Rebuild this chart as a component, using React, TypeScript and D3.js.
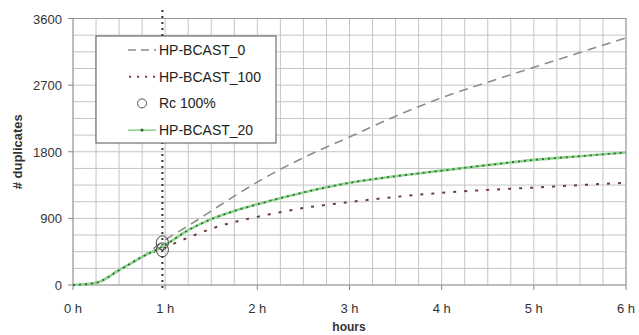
import React from "react";
import * as d3 from "d3";

// hours sampled at quarter-hour steps
const hours = [0, 0.25, 0.5, 0.75, 1, 1.25, 1.5, 1.75, 2, 2.5, 3, 3.5, 4, 4.5, 5, 5.5, 6];
const bcast0 = [0, 30, 200, 380, 610, 800, 1000, 1200, 1390, 1720, 2000, 2280, 2530, 2740, 2940, 3140, 3340];
const bcast100 = [0, 30, 200, 380, 510, 640, 760, 850, 920, 1040, 1120, 1190, 1245, 1285, 1315, 1350, 1380];
const bcast20 = [0, 30, 200, 380, 540, 740, 890, 1000, 1090, 1250, 1380, 1470, 1545, 1620, 1690, 1740, 1790];
const rcPoints = [{ h: 0.97, v: 570 }, { h: 0.97, v: 475 }];
const rcLine = 0.97;

const xTicks = [0, 1, 2, 3, 4, 5, 6];
const yTicks = [0, 900, 1800, 2700, 3600];
const legendLabels = ["HP-BCAST_0", "HP-BCAST_100", "Rc 100%", "HP-BCAST_20"];

const W = 639;
const H = 335;
const m = { left: 73, right: 626, top: 18.5, bottom: 285 };

export default function App() {
  const x = d3.scaleLinear().domain([0, 6]).range([m.left, m.right]);
  const y = d3.scaleLinear().domain([0, 3600]).range([m.bottom, m.top]);
  const line = (vals: number[]) =>
    d3
      .line<number>()
      .x((d, i) => x(hours[i]))
      .y((d) => y(d))
      .curve(d3.curveMonotoneX)(vals) || "";

  const xMinor = d3.range(0, 6.001, 0.25);
  const yMinor = d3.range(0, 3601, 225);
  const font = "Arial, 'Liberation Sans', sans-serif";

  return (
    <svg width={W} height={H} style={{ position: "absolute", left: 0, top: 0 }} fontFamily={font}>
      <rect width={W} height={H} fill="#fff" />
      {xMinor.map((t) => (
        <line key={"gx" + t} x1={x(t)} x2={x(t)} y1={m.top} y2={m.bottom} stroke="#c4c4c4" strokeWidth={1} />
      ))}
      {yMinor.map((t) => (
        <line key={"gy" + t} x1={m.left} x2={m.right} y1={y(t)} y2={y(t)} stroke="#c4c4c4" strokeWidth={1} />
      ))}
      <rect x={m.left} y={m.top} width={m.right - m.left} height={m.bottom - m.top} fill="none" stroke="#9a9a9a" />
      {xTicks.map((t) => (
        <line key={"tx" + t} x1={x(t)} x2={x(t)} y1={m.bottom} y2={m.bottom + 5} stroke="#888" />
      ))}
      {yTicks.map((t) => (
        <line key={"ty" + t} x1={m.left - 5} x2={m.left} y1={y(t)} y2={y(t)} stroke="#888" />
      ))}
      {xTicks.map((t) => (
        <text key={"lx" + t} x={x(t)} y={313} textAnchor="middle" fontSize={13} fill="#333">
          {t + " h"}
        </text>
      ))}
      {yTicks.map((t) => (
        <text key={"ly" + t} x={62} y={y(t) + 5} textAnchor="end" fontSize={13} fill="#333">
          {t}
        </text>
      ))}
      <text x={349} y={331} textAnchor="middle" fontSize={12} fontWeight="bold" fill="#333">
        hours
      </text>
      <text transform={`translate(22,${(m.top + m.bottom) / 2}) rotate(-90)`} textAnchor="middle" fontSize={13} fontWeight="bold" fill="#333">
        # duplicates
      </text>

      <line x1={x(rcLine)} x2={x(rcLine)} y1={10} y2={m.bottom + 4} stroke="#333" strokeWidth={2} strokeDasharray="2,4" />

      <path d={line(bcast0)} fill="none" stroke="#8c8c8c" strokeWidth={1.6} strokeDasharray="9,6" />
      <path d={line(bcast100)} fill="none" stroke="#6b3a44" strokeWidth={2} strokeDasharray="3,8" />
      <path d={line(bcast20)} fill="none" stroke="#8cd88c" strokeWidth={2.6} />
      <path d={line(bcast20)} fill="none" stroke="#3d663d" strokeWidth={1.8} strokeDasharray="2,4" />
      {rcPoints.map((p, i) => (
        <ellipse key={"rc" + i} cx={x(p.h)} cy={y(p.v)} rx={6} ry={7} fill="none" stroke="#444" strokeWidth={1} />
      ))}

      <g transform="translate(96,36)">
        <rect width={180} height={107} fill="#fff" stroke="#555" strokeWidth={1} />
        {legendLabels.map((lab, i) => {
          const ly = 14 + i * 26.7;
          return (
            <g key={lab}>
              {i === 0 && <line x1={32} x2={60} y1={ly} y2={ly} stroke="#8c8c8c" strokeWidth={1.6} strokeDasharray="8,5" />}
              {i === 1 && <line x1={33} x2={60} y1={ly} y2={ly} stroke="#6b3a44" strokeWidth={2} strokeDasharray="2,6" />}
              {i === 2 && <circle cx={46} cy={ly} r={4.5} fill="none" stroke="#555" />}
              {i === 3 && (
                <g>
                  <line x1={32} x2={60} y1={ly} y2={ly} stroke="#6cc46c" strokeWidth={1.2} />
                  <circle cx={46} cy={ly} r={1.6} fill="#3a6a3a" />
                </g>
              )}
              <text x={63} y={ly + 5} fontSize={14} fill="#222">
                {lab}
              </text>
            </g>
          );
        })}
      </g>
    </svg>
  );
}
